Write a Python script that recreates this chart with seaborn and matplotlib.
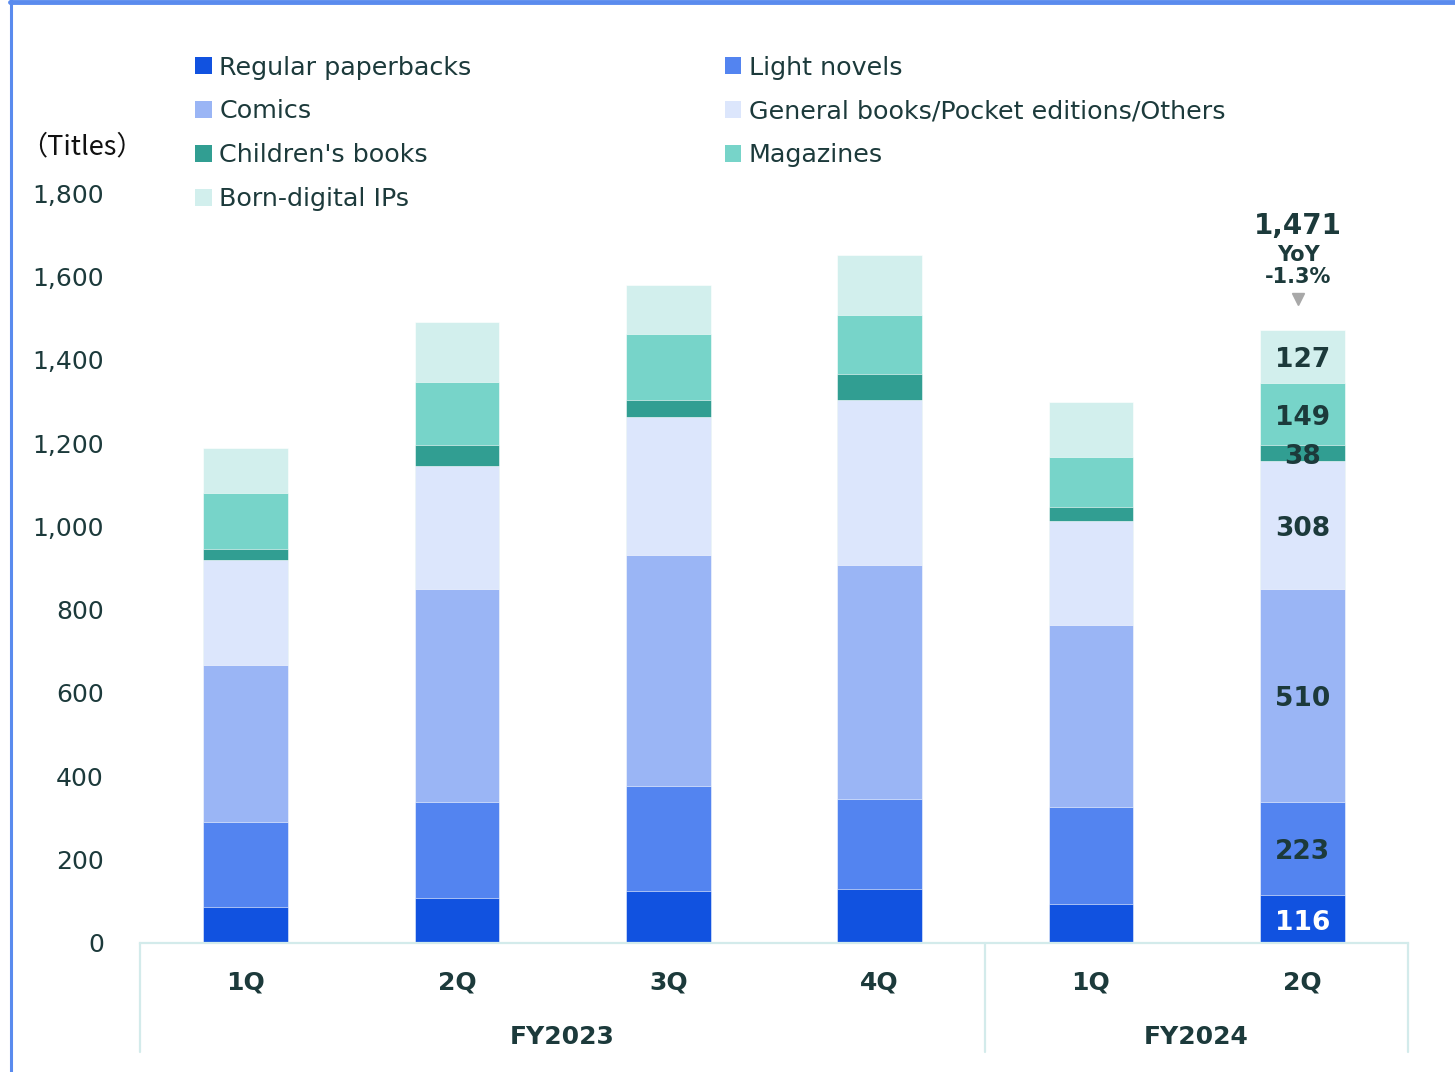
import matplotlib
matplotlib.use("Agg")
import matplotlib.pyplot as plt
import seaborn as sns
import pandas as pd
import numpy as np
from matplotlib.patches import Patch
from matplotlib.lines import Line2D
import matplotlib.transforms as mtransforms

# ---------------- data ----------------
quarters = ["1Q", "2Q", "3Q", "4Q", "1Q", "2Q"]
fiscal_years = ["FY2023", "FY2023", "FY2023", "FY2023", "FY2024", "FY2024"]
series_names = ["Regular paperbacks", "Light novels", "Comics",
                "General books/Pocket editions/Others", "Children's books",
                "Magazines", "Born-digital IPs"]
regular_paperbacks = [86, 108, 125, 130, 94, 116]
light_novels = [204, 230, 252, 216, 232, 223]
comics = [377, 512, 554, 561, 437, 510]
general_books = [252, 295, 331, 396, 250, 308]
childrens_books = [27, 50, 41, 63, 33, 38]
magazines = [134, 151, 159, 141, 120, 149]
born_digital = [108, 144, 117, 144, 132, 127]
yoy_text = "YoY\n-1.3%"
y_ticks = [0, 200, 400, 600, 800, 1000, 1200, 1400, 1600, 1800]
unit_label = "（Titles）"

series_values = [regular_paperbacks, light_novels, comics, general_books,
                 childrens_books, magazines, born_digital]
colors = ["#1152E0", "#5384F0", "#9AB5F5", "#DCE6FC", "#319E92", "#77D4C9", "#D2EFED"]
text_color = "#1C3A3B"

sns.set_theme(style="white")
plt.rcParams['font.family'] = ['DejaVu Sans']

W, H = 1455, 1072
fig = plt.figure(figsize=(W / 100, H / 100), dpi=100)
ax = fig.add_axes([140 / W, (H - 943) / H, (1408 - 140) / W, 750 / H])

bar_ids = [f"{fy} {q}" for fy, q in zip(fiscal_years, quarters)]
vals = np.array(series_values)
cum = np.cumsum(vals, axis=0)

# draw cumulative bars from top layer down so each covers the previous
for k in range(len(series_names) - 1, -1, -1):
    df = pd.DataFrame({"bar": bar_ids, "value": cum[k]})
    sns.barplot(data=df, x="bar", y="value", order=bar_ids, color=colors[k],
                saturation=1, width=0.4, errorbar=None, ax=ax,
                edgecolor="white", linewidth=0.4)

ax.set_xlim(-0.5, len(bar_ids) - 0.5)
ax.set_ylim(0, 1800)
ax.set_xlabel("")
ax.set_ylabel("")
ax.set_yticks(y_ticks)
ax.set_yticklabels([f"{t:,}" for t in y_ticks], fontsize=18, color=text_color)
ax.tick_params(axis="y", length=0, pad=26)
ax.set_xticks(range(len(bar_ids)))
ax.set_xticklabels(quarters, fontsize=18, fontweight="bold", color=text_color)
ax.tick_params(axis="x", length=0, pad=19.5)
for s in ["top", "right", "left"]:
    ax.spines[s].set_visible(False)
ax.spines["bottom"].set_color("#D3EBEB")
ax.spines["bottom"].set_linewidth(1.6)

# group separators and fiscal-year labels
trans = mtransforms.blended_transform_factory(ax.transData, ax.transAxes)
for xs in [-0.5, 3.5, len(bar_ids) - 0.5]:
    ax.add_line(Line2D([xs, xs], [0, -(1052 - 943) / 750], transform=trans,
                       color="#D3EBEB", lw=1.6, clip_on=False))
for fy in dict.fromkeys(fiscal_years):
    idx = [i for i, f in enumerate(fiscal_years) if f == fy]
    ax.text(np.mean(idx), -(1037 - 943) / 750, fy, transform=trans, ha="center",
            va="center", fontsize=18, fontweight="bold", color=text_color)

# segment labels on the last bar
last = len(bar_ids) - 1
for k in range(len(series_names)):
    v = vals[k, last]
    c = cum[k, last] - v / 2
    ax.text(last, c - 9, f"{v}", ha="center", va="center", fontsize=19,
            fontweight="bold", color="white" if k == 0 else text_color)

total = cum[-1, last]
ax.text(last - 0.02, 1722, f"{total:,}", ha="center", va="center", fontsize=20,
        fontweight="bold", color=text_color, clip_on=False)
ax.text(last - 0.02, 1624, yoy_text, ha="center", va="center", fontsize=15,
        fontweight="bold", color=text_color, linespacing=1.12, clip_on=False)
ax.plot([last - 0.02], [1545], marker="v", color="#A8A8A8", markersize=9,
        clip_on=False)

# legend (row-major order as in reference)
handles = [Patch(facecolor=c, edgecolor="none") for c in colors]
order = [0, 2, 4, 6, 1, 3, 5]
leg = fig.legend([handles[i] for i in order], [series_names[i] for i in order],
                 ncol=2, loc="upper left", bbox_to_anchor=(195 / W, 1 - 55.5 / H),
                 frameon=False, fontsize=18.3, handlelength=0.65, handleheight=0.65,
                 handletextpad=0.3, labelspacing=0.78, columnspacing=9.97,
                 borderpad=0, borderaxespad=0)
for t in leg.get_texts():
    t.set_color(text_color)

fig.text(20 / W, 1 - 147 / H, unit_label, ha="left", va="center", fontsize=19.5,
         color="#111111", family=["Noto Sans CJK JP", "DejaVu Sans"])

# frame lines
fig.add_artist(Line2D([10 / W, 1], [1 - 2 / H, 1 - 2 / H], transform=fig.transFigure,
                      color="#5A8BEE", lw=3.5))
fig.add_artist(Line2D([10.5 / W, 10.5 / W], [0, 1], transform=fig.transFigure,
                      color="#5A8BEE", lw=2.2))

fig.savefig("out.png", dpi=100)
